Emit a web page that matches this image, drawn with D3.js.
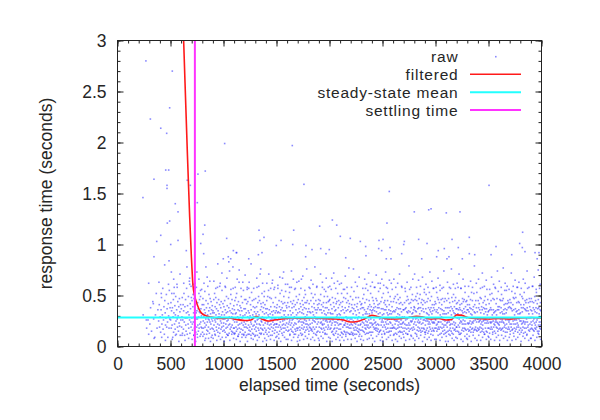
<!DOCTYPE html>
<html><head><meta charset="utf-8">
<script src="https://cdn.jsdelivr.net/npm/d3@7"></script>
<style>
body{margin:0;background:#fff}
text{font-family:"Liberation Sans",Arial,Helvetica,sans-serif;fill:#262626}
</style>
</head><body>
<svg id="chart" width="600" height="420"></svg>
<script>
// ---------- data ----------
const xMajorTicks = [0, 500, 1000, 1500, 2000, 2500, 3000, 3500, 4000];
const yMajorTicks = [0, 0.5, 1, 1.5, 2, 2.5, 3];
const yTickLabels = ["0", "0.5", "1", "1.5", "2", "2.5", "3"];
const legendLabels = ["raw", "filtered", "steady-state mean", "settling time"];
const xTitle = "elapsed time (seconds)";
const yTitle = "response time (seconds)";
const steadyStateMean = 0.285;
const settlingTime = 730;

const filteredTime = [590, 624, 658, 681, 697, 712, 727, 743, 760, 775, 800, 838, 880, 930, 990, 1050, 1120, 1200, 1260, 1310, 1360, 1420, 1480, 1550, 1650, 1750, 1850, 1950, 2050, 2130, 2200, 2260, 2330, 2400, 2450, 2520, 2600, 2680, 2750, 2820, 2880, 2950, 3030, 3100, 3150, 3200, 3250, 3320, 3400, 3500, 3600, 3700, 3800, 3900, 4000];
const filteredResp = [4.05, 3.0, 1.93, 1.27, 0.88, 0.6, 0.5, 0.44, 0.39, 0.355, 0.32, 0.30, 0.29, 0.28, 0.275, 0.28, 0.265, 0.255, 0.26, 0.295, 0.27, 0.25, 0.26, 0.27, 0.28, 0.275, 0.28, 0.275, 0.27, 0.26, 0.24, 0.245, 0.27, 0.305, 0.295, 0.275, 0.27, 0.275, 0.285, 0.295, 0.29, 0.27, 0.275, 0.26, 0.265, 0.31, 0.305, 0.28, 0.275, 0.27, 0.275, 0.27, 0.28, 0.285, 0.28];

// sparse raw samples (upper part of the cloud), seconds / seconds
const sparseTime = [268, 517, 492, 310, 408, 464, 1011, 1649, 455, 483, 759, 828, 344, 658, 687, 467, 467, 1759, 2564, 3505, 240, 753, 2800, 2936, 2958, 3102, 3231, 2027, 823, 1907, 2068, 2542, 1335, 1662, 3822, 807, 1030, 1382, 1344, 2102, 2196, 2467, 2505, 1543, 1498, 2706, 2700, 2841, 3156, 3319, 785, 1653, 1778, 2291, 2341, 2920, 3794, 3819, 3571, 3215, 2571, 1917, 1998, 1835, 2492, 2464, 1093, 1124, 1329, 1363, 813, 1775, 1967, 2344, 2681, 3026, 3011, 3083, 3127, 3319, 3370, 3524, 3719, 3844, 3939, 3976, 998, 1045, 1068, 1238, 2153, 2536, 2580, 2870, 3253, 3108, 3959, 545, 571, 492, 470, 408, 370, 571, 502, 649, 344, 486, 445, 294, 391, 508, 681, 533, 413, 338, 272, 1121];
const sparseResp = [2.80, 2.70, 2.34, 2.23, 2.14, 2.09, 1.99, 1.97, 1.73, 1.73, 1.69, 1.72, 1.64, 1.63, 1.58, 1.58, 1.55, 1.59, 1.52, 1.58, 1.46, 1.41, 1.32, 1.34, 1.35, 1.31, 1.32, 1.24, 1.19, 1.18, 1.19, 1.21, 1.14, 1.14, 1.12, 1.10, 1.06, 1.07, 1.04, 1.08, 1.06, 1.04, 1.05, 1.04, 0.99, 1.03, 1.00, 1.05, 1.05, 1.07, 1.01, 1.00, 0.99, 1.03, 0.98, 1.01, 1.01, 0.97, 0.98, 0.97, 0.97, 0.96, 0.95, 0.95, 0.94, 0.96, 0.94, 0.92, 0.90, 0.92, 0.91, 0.88, 0.91, 0.89, 0.91, 0.94, 0.88, 0.96, 0.88, 0.91, 0.90, 0.90, 0.90, 0.93, 0.92, 0.92, 0.86, 0.88, 0.86, 0.86, 0.87, 0.86, 0.86, 0.86, 0.86, 0.86, 0.86, 1.40, 1.32, 1.23, 1.21, 1.09, 1.03, 1.04, 1.00, 0.94, 0.88, 0.84, 0.80, 0.62, 0.63, 0.73, 0.61, 0.52, 0.52, 0.42, 0.26, 0.92];

// dense raw samples: one string per 100-second column (index = hundreds of seconds);
// each 4-digit code = seconds into the column (2 digits) + response in hundredths (2 digits)
const rawColumns = [
"", "",
"4231 7518 8826 9412",
"0522 1238 2115 3344 4127 5209 5831 6652 7318 8136 8825 9441 9719 4508",
"0229 0714 1136 1548 1922 2331 2757 3017 3426 3839 4212 4645 5033 5321 5728 6151 6419 6837 7224 7509 7942 8230 8618 8955 9327 9638 1709 5206 8161",
"0126 0443 0718 1035 1252 1521 1838 2109 2429 2746 2914 3233 3558 3822 4140 4417 4631 4949 5225 5512 5836 6161 6327 6619 6944 7230 7515 7839 8123 8447 8620 8934 9211 9541 9826 1607 4711 7905 3066 6358 9071",
"0237 0519 0829 1148 1313 1626 1941 2217 2435 2752 3024 3311 3639 3928 4246 4421 4715 5033 5257 5528 5812 6140 6434 6622 6949 7218 7531 7864 8026 8313 8642 8937 9224 9419 9748 0911 3706 7108 2562 5578 8167 9459",
"0128 0345 0622 0816 1139 1351 1524 1833 2011 2247 2429 2618 2936 3162 3320 3541 3814 4027 4233 4458 4719 4935 5212 5427 5643 5821 6137 6315 6529 6852 7018 7234 7446 7622 7910 8133 8349 8524 8737 8919 9230 9456 9718 9941 0407 2111 3805 5509 8712 1261 3057 4973 6866 8355",
"0214 0432 0647 0925 1118 1341 1529 1712 2036 2223 2454 2619 2833 3108 3327 3545 3721 3938 4216 4429 4668 4824 5031 5215 5442 5627 5819 6135 6351 6526 6713 7038 7224 7447 7617 7832 8122 8344 8509 8736 8927 9218 9440 9625 9833 0610 2406 4112 5908 7705 9311 1662 3478 5259 7164",
"0135 0317 0528 0846 1021 1233 1415 1652 1926 2139 2311 2524 2748 2931 3219 3437 3616 3843 4127 4358 4522 4714 4935 5229 5446 5618 5832 6121 6341 6513 6729 6962 7225 7438 7617 7844 8023 8231 8419 8655 8828 9134 9315 9542 9727 9920 0208 1912 3706 5410 7207 8809 0964 2757 4681 6459 8572",
"0223 0439 0616 0831 1145 1327 1514 1736 1958 2222 2418 2633 2849 3112 3325 3540 3719 3934 4211 4426 4647 4821 5038 5313 5529 5774 5922 6135 6317 6542 6728 6951 7219 7433 7615 7829 8046 8221 8437 8614 8832 9157 9326 9518 9740 9913 0705 2309 4111 6006 7812 9508 1559 3267 5083 7056 8978",
"0118 0336 0524 0745 0913 1232 1427 1648 1819 2033 2215 2452 2624 2841 3117 3329 3510 3736 3921 4144 4312 4527 4763 4918 5135 5322 5540 5714 5931 6226 6438 6617 6849 7123 7335 7512 7728 7943 8216 8430 8621 8855 9112 9337 9524 9719 9946 0312 2107 3910 5705 7409 9111 1158 2966 4875 6557 8263",
"0231 0414 0637 0822 1146 1319 1533 1711 1942 2125 2356 2618 2829 3044 3212 3435 3621 3857 4016 4233 4427 4648 4819 5130 5315 5541 5724 5911 6136 6322 6553 6717 6928 7245 7413 7631 7820 8139 8312 8529 8746 8921 9234 9417 9638 9825 0909 2605 4412 6208 8007 9610 0470 2458 4263 6081 8557",
"0124 0347 0519 0732 0915 1239 1422 1658 1826 2011 2234 2443 2618 2827 3149 3316 3531 3722 3945 4113 4328 4571 4721 4936 5118 5342 5525 5713 5939 6124 6352 6517 6729 6934 7216 7443 7621 7838 8012 8227 8449 8632 8818 9141 9323 9526 9714 9937 0111 1906 3609 5312 7105 8908 1467 3359 5176 6962 8654",
"0216 0433 0628 0845 1112 1337 1522 1749 1924 2131 2318 2555 2729 2914 3236 3421 3648 3817 4032 4226 4411 4639 4822 5147 5319 5534 5727 5962 6215 6431 6624 6843 7018 7235 7421 7656 7827 8013 8239 8422 8616 8833 9148 9327 9519 9735 9922 0606 2510 4307 6011 7806 9409 0962 2771 4557 6365 8258",
"0138 0322 0514 0741 0926 1133 1357 1519 1734 2012 2227 2445 2621 2839 3015 3233 3452 3624 3819 4136 4328 4517 4744 4929 5113 5338 5521 5767 5925 6142 6318 6535 6722 6949 7114 7331 7526 7743 7918 8235 8421 8654 8829 9116 9340 9523 9738 0410 2208 4005 5811 7609 9207 1360 3168 4955 6773 8561",
"0227 0419 0643 0815 1131 1322 1548 1716 1939 2124 2353 2526 2712 2935 3221 3444 3617 3831 4058 4223 4415 4638 4826 5042 5219 5433 5614 5827 6145 6321 6539 6712 6929 7156 7323 7517 7741 7928 8115 8336 8522 8749 8931 9218 9443 9627 9816 0807 2611 4206 6109 7912 9705 0561 2358 4174 5966 7857 9263",
"0133 0318 0546 0724 0911 1237 1425 1651 1819 2034 2216 2442 2627 2813 3039 3224 3566 3718 3933 4121 4345 4512 4736 4924 5141 5317 5532 5723 5948 6119 6338 6526 6714 6943 7129 7351 7522 7716 7937 8125 8343 8519 8731 8922 9145 9317 9534 9728 0209 1906 3711 5607 7310 9108 1164 3057 4869 6755 8576",
"0221 0437 0615 0842 1026 1219 1434 1657 1822 2018 2233 2445 2616 2828 3052 3217 3439 3623 3815 4134 4326 4548 4719 4931 5113 5342 5525 5738 5917 6129 6351 6524 6736 6912 7145 7327 7519 7733 7958 8114 8336 8522 8741 8927 9115 9338 9524 9746 0512 2307 4109 5906 7711 9508 0758 2665 4461 6278 8159",
"0142 0319 0528 0736 0914 1145 1327 1523 1751 1918 2136 2324 2541 2717 2933 3122 3358 3521 3714 3939 4126 4343 4518 4735 4922 5149 5316 5532 5727 5913 6138 6325 6554 6719 6931 7143 7326 7512 7738 7924 8149 8317 8533 8721 8944 9119 9336 9527 9745 0306 2110 3908 5812 7405 9209 1571 3363 5156 6967 8858",
"0124 0346 0517 0733 0925 1141 1318 1532 1756 1921 2114 2337 2523 2748 2915 3132 3326 3512 3743 3928 4117 4339 4562 4724 4918 5135 5321 5547 5713 5936 6124 6342 6515 6729 6944 7118 7331 7523 7752 7926 8112 8338 8521 8745 8917 9132 9328 9541 9722 0708 2505 4311 6107 7909 9606 0359 2167 4072 5957 7664 9461",
"0231 0417 0643 0822 1035 1214 1452 1628 1813 2039 2225 2444 2619 2836 3012 3227 3448 3621 3815 4033 4256 4421 4614 4838 5023 5247 5412 5629 5835 6019 6243 6414 6627 6852 7022 7236 7419 7645 7813 8028 8239 8425 8618 8842 9021 9234 9412 9627 9849 0111 1809 3606 5410 7207 9012 1262 3156 4969 6558 8377",
"0118 0335 0522 0714 0941 1127 1312 1538 1721 1946 2113 2332 2525 2718 2937 3154 3316 3523 3741 3912 4128 4335 4519 4722 4948 5116 5331 5512 5739 5924 6118 6342 6527 6715 6936 7121 7348 7514 7729 7917 8133 8325 8512 8744 8921 9116 9337 9522 9741 0607 2411 4208 6005 7810 9407 0858 2676 4463 6259 8068",
"0227 0442 0616 0838 1024 1219 1447 1631 1815 2038 2223 2451 2627 2814 3036 3221 3443 3618 3832 4057 4225 4417 4634 4821 5046 5213 5432 5624 5819 6037 6255 6421 6613 6839 7026 7218 7445 7632 7814 8041 8223 8436 8619 8852 9027 9214 9439 9623 9835 0310 2006 3812 5707 7508 9311 1457 3266 5061 6972 8759",
"0133 0321 0548 0714 0936 1122 1345 1519 1738 1926 2142 2317 2535 2723 2958 3118 3339 3524 3716 3947 4121 4334 4518 4745 4929 5115 5338 5522 5741 5917 6132 6354 6521 6738 6914 7142 7327 7515 7733 7962 8128 8316 8544 8721 8937 9124 9312 9548 9726 9931 0808 2605 4410 6212 8006 9709 0463 2358 4170 5962 7857 9466",
"0219 0437 0624 0852 1015 1232 1443 1621 1836 2013 2245 2427 2619 2841 3024 3236 3417 3658 3822 4039 4214 4433 4626 4845 5018 5231 5453 5622 5814 6036 6227 6441 6615 6832 7024 7249 7418 7635 7823 8044 8215 8432 8627 8818 9039 9256 9421 9634 9818 0205 2012 3807 5609 7411 9106 1160 2973 4757 6565 8362",
"0128 0344 0519 0735 0912 1147 1326 1518 1734 1922 2149 2313 2536 2725 2917 3143 3329 3512 3738 3925 4151 4318 4532 4721 4946 5114 5337 5524 5719 5942 6131 6315 6548 6722 6937 7114 7343 7526 7719 7934 8122 8358 8514 8729 8941 9123 9318 9536 9724 0511 2307 4105 5910 7708 9512 0766 2558 4362 6171 8059",
"0236 0415 0629 0843 1022 1218 1437 1654 1826 2013 2238 2421 2645 2817 3034 3227 3449 3612 3833 4021 4246 4418 4635 4823 5042 5215 5429 5656 5821 6034 6217 6443 6625 6811 7038 7224 7446 7618 7832 8025 8251 8416 8633 8827 9045 9219 9436 9622 9839 0109 1906 3712 5507 7310 9008 1357 3263 5079 6858 8666",
"0117 0338 0524 0746 0913 1135 1327 1549 1721 1934 2112 2345 2528 2716 2952 3124 3337 3519 3742 3926 4115 4338 4523 4747 4918 5132 5324 5551 5716 5938 6127 6314 6543 6722 6935 7118 7346 7529 7715 7941 8123 8337 8526 8718 8945 9134 9317 9553 9726 9914 0606 2410 4208 6011 7805 9609 0371 2158 4065 5859 7768 9456",
"0243 0421 0614 0837 1025 1251 1416 1633 1827 2044 2218 2432 2625 2813 3047 3222 3438 3615 3831 4024 4253 4419 4636 4822 5045 5217 5434 5612 5838 6026 6249 6415 6632 6824 7041 7218 7435 7623 7857 8016 8238 8424 8615 8841 9023 9236 9418 9644 9827 0412 2207 4009 5806 7611 9307 1061 2958 4773 6664 8457",
"0126 0342 0518 0734 0921 1153 1315 1536 1722 1948 2117 2333 2524 2746 2919 3138 3324 3517 3743 3928 4112 4355 4531 4719 4937 5124 5346 5513 5729 5941 6118 6336 6522 6747 6915 7132 7326 7558 7719 7935 8121 8344 8516 8732 8925 9147 9313 9538 9721 0707 2511 4306 6109 7912 9505 0658 2467 4260 6157 7974",
"0232 0414 0645 0823 1019 1238 1424 1652 1815 2033 2226 2447 2612 2838 3024 3216 3443 3621 3835 4018 4257 4422 4639 4815 5031 5226 5448 5613 5837 6022 6244 6418 6635 6812 7051 7224 7433 7616 7839 8021 8245 8417 8632 8823 9048 9215 9437 9619 9842 0210 2005 3811 5708 7506 9209 1363 3158 5076 6961 8757",
"0119 0337 0528 0743 0915 1132 1358 1521 1736 1914 2145 2327 2519 2738 2923 3141 3312 3536 3725 3957 4113 4331 4524 4742 4916 5135 5322 5547 5718 5933 6126 6344 6515 6737 6922 7146 7318 7534 7725 7953 8117 8339 8522 8744 8916 9133 9328 9545 9712 9936 0508 2312 4107 5905 7710 9408 0462 2271 4157 6066 7859",
"0241 0423 0617 0836 1022 1249 1415 1634 1823 2041 2216 2438 2625 2819 3046 3232 3414 3637 3822 4053 4217 4431 4624 4845 5018 5236 5423 5614 5839 6025 6252 6416 6634 6828 7041 7217 7433 7626 7819 8045 8228 8416 8638 8824 9053 9215 9434 9627 9818 0107 1910 3705 5511 7308 9106 1259 3164 4958 6779 8562",
"0127 0345 0516 0738 0924 1117 1342 1525 1736 1919 2148 2326 2514 2733 2922 3147 3318 3539 3724 3915 4136 4358 4521 4717 4943 5125 5338 5514 5732 5926 6145 6312 6537 6723 6949 7118 7334 7526 7741 7915 8137 8323 8556 8714 8931 9125 9346 9518 9734 9923 0811 2606 4409 6212 8007 9710 0666 2457 4272 6159 7965",
"0235 0418 0642 0827 1013 1236 1451 1624 1817 2038 2223 2445 2619 2836 3024 3252 3417 3631 3828 4014 4247 4425 4636 4819 5033 5222 5446 5615 5834 6021 6258 6424 6613 6835 7026 7242 7419 7631 7824 8047 8218 8436 8623 8815 9039 9254 9422 9636 9817 0309 2107 3912 5706 7509 9311 1156 2968 4861 6657 8474",
"0121 0339 0524 0746 0918 1133 1327 1545 1716 1938 2124 2351 2517 2734 2926 3145 3318 3532 3724 3947 4115 4336 4523 4741 4919 5132 5355 5521 5737 5914 6142 6326 6518 6733 6955 7122 7336 7514 7742 7928 8117 8345 8526 8738 8919 9143 9324 9517 9739 9926 0606 2411 4208 6010 7806 9609 0264 2058 3977 5762 7659 9456",
"0246 0422 0615 0838 1027 1243 1419 1637 1822 2054 2216 2435 2628 2817 3041 3225 3448 3613 3836 4022 4247 4418 4631 4826 5052 5215 5437 5622 5848 6017 6234 6426 6643 6819 7035 7223 7458 7614 7832 8021 8244 8419 8636 8827 9043 9216 9432 9625 9851 0412 2206 4010 5807 7609 9412 1572 3359 5165 6958 8763",
"0133 0318 0541 0725 0914 1138 1322 1549 1716 1934 2123 2347 2519 2738 2925 3113 3341 3524 3753 3918 4137 4322 4545 4714 4936 5124 5343 5518 5735 5927 6146 6312 6538 6724 6957 7119 7335 7521 7743 7916 8132 8328 8547 8715 8939 9122 9344 9517 9736 9928 0705 2510 4308 6111 7906 9708 0957 2866 4662 6474 8258",
"0224 0447 0618 0835 1021 1244 1417 1632 1859 2025 2238 2416 2643 2827 3015 3236 3423 3649 3818 4034 4221 4445 4617 4838 5024 5253 5419 5633 5826 6042 6215 6437 6628 6813 7046 7221 7438 7615 7832 8024 8257 8418 8636 8821 9043 9217 9435 9624 9848 0208 2011 3806 5609 7412 9207 1359 3168 5056 6975 8761"
];

// ---------- parse ----------
const rawTime = [], rawResp = [];
rawColumns.forEach((s, i) => {
  s.split(/\s+/).filter(Boolean).forEach(code => {
    rawTime.push(i * 100 + +code.slice(0, 2));
    rawResp.push(+code.slice(2) / 100);
  });
});
sparseTime.forEach((t, i) => { rawTime.push(t); rawResp.push(sparseResp[i]); });

// ---------- layout ----------
const svg = d3.select("#chart");
const L = 117.5, R = 541.5, T = 40.5, B = 346.5;
const x = d3.scaleLinear().domain([0, 4000]).range([L, R]);
const y = d3.scaleLinear().domain([0, 3]).range([B, T]);
const axisColor = "#222";
const fontSize = 17.5;
const legendFontSize = 15.5;

svg.append("defs").append("clipPath").attr("id", "clip")
  .append("rect").attr("x", L).attr("y", T).attr("width", R - L).attr("height", B - T);

// axes (gnuplot style: inward ticks, mirrored)
function styleAxis(g) {
  g.select(".domain").remove();
  g.selectAll("line").attr("stroke", axisColor);
  g.selectAll("text").attr("font-size", fontSize).attr("fill", "#262626")
   .attr("font-family", "'Liberation Sans', Arial, sans-serif");
}
const xMinor = d3.range(0, 4001, 100);
const yMinor = d3.range(0, 31).map(d => d / 10);

svg.append("g").attr("transform", `translate(0,${B})`)
  .call(d3.axisBottom(x).tickValues(xMinor).tickSize(-3).tickFormat("")).call(styleAxis);
svg.append("g").attr("transform", `translate(0,${B})`)
  .call(d3.axisBottom(x).tickValues(xMajorTicks).tickSize(-6).tickPadding(11).tickFormat(d3.format("d"))).call(styleAxis);
svg.append("g").attr("transform", `translate(0,${T})`)
  .call(d3.axisTop(x).tickValues(xMinor).tickSize(-3).tickFormat("")).call(styleAxis);
svg.append("g").attr("transform", `translate(0,${T})`)
  .call(d3.axisTop(x).tickValues(xMajorTicks).tickSize(-6).tickFormat("")).call(styleAxis);

svg.append("g").attr("transform", `translate(${L},0)`)
  .call(d3.axisLeft(y).tickValues(yMinor).tickSize(-3).tickFormat("")).call(styleAxis);
svg.append("g").attr("transform", `translate(${L},0)`)
  .call(d3.axisLeft(y).tickValues(yMajorTicks).tickSize(-6).tickPadding(11)
    .tickFormat((d, i) => yTickLabels[i])).call(styleAxis);
svg.append("g").attr("transform", `translate(${R},0)`)
  .call(d3.axisRight(y).tickValues(yMinor).tickSize(-3).tickFormat("")).call(styleAxis);
svg.append("g").attr("transform", `translate(${R},0)`)
  .call(d3.axisRight(y).tickValues(yMajorTicks).tickSize(-6).tickFormat("")).call(styleAxis);

// data layer
const plot = svg.append("g").attr("clip-path", "url(#clip)");
plot.selectAll("rect.raw").data(rawTime).join("rect").attr("class", "raw")
  .attr("x", (d) => x(d) - 0.8)
  .attr("y", (d, i) => y(rawResp[i]) - 0.8)
  .attr("width", 1.6).attr("height", 1.6)
  .attr("fill", "#2a2aff").attr("fill-opacity", 0.55);

const line = d3.line().x(d => x(d[0])).y(d => y(d[1])).curve(d3.curveMonotoneX);
plot.append("path").datum(filteredTime.map((t, i) => [t, filteredResp[i]]))
  .attr("d", line).attr("fill", "none").attr("stroke", "#ff1a1a").attr("stroke-width", 1.6);

plot.append("line").attr("x1", x(0)).attr("x2", x(4000))
  .attr("y1", y(steadyStateMean)).attr("y2", y(steadyStateMean))
  .attr("stroke", "#22ffff").attr("stroke-width", 2);

plot.append("line").attr("x1", x(settlingTime)).attr("x2", x(settlingTime))
  .attr("y1", y(0)).attr("y2", y(3))
  .attr("stroke", "#ff33ff").attr("stroke-width", 2);

// border
svg.append("rect").attr("x", L).attr("y", T).attr("width", R - L).attr("height", B - T)
  .attr("fill", "none").attr("stroke", axisColor).attr("stroke-width", 1);

// axis titles
svg.append("text").attr("x", (L + R) / 2).attr("y", 391).attr("text-anchor", "middle")
  .attr("font-size", fontSize).text(xTitle);
svg.append("text").attr("transform", `translate(52,${(T + B) / 2}) rotate(-90)`)
  .attr("text-anchor", "middle").attr("font-size", fontSize).text(yTitle);

// legend
const legendY = [56.7, 74.3, 92.3, 110];
const legendColors = [null, "#ff1a1a", "#22ffff", "#ff33ff"];
const lg = svg.append("g");
legendLabels.forEach((lab, i) => {
  lg.append("text").attr("x", 458.5).attr("y", legendY[i] + 5.5)
    .attr("text-anchor", "end").attr("font-size", legendFontSize)
    .attr("letter-spacing", "0.8px").text(lab);
  if (i === 0) {
    lg.append("rect").attr("x", 495).attr("y", legendY[i] - 0.8).attr("width", 1.6).attr("height", 1.6)
      .attr("fill", "#2a2aff").attr("fill-opacity", 0.55);
  } else {
    lg.append("line").attr("x1", 470).attr("x2", 521).attr("y1", legendY[i]).attr("y2", legendY[i])
      .attr("stroke", legendColors[i]).attr("stroke-width", i === 1 ? 1.6 : 2);
  }
});
</script>
</body></html>
